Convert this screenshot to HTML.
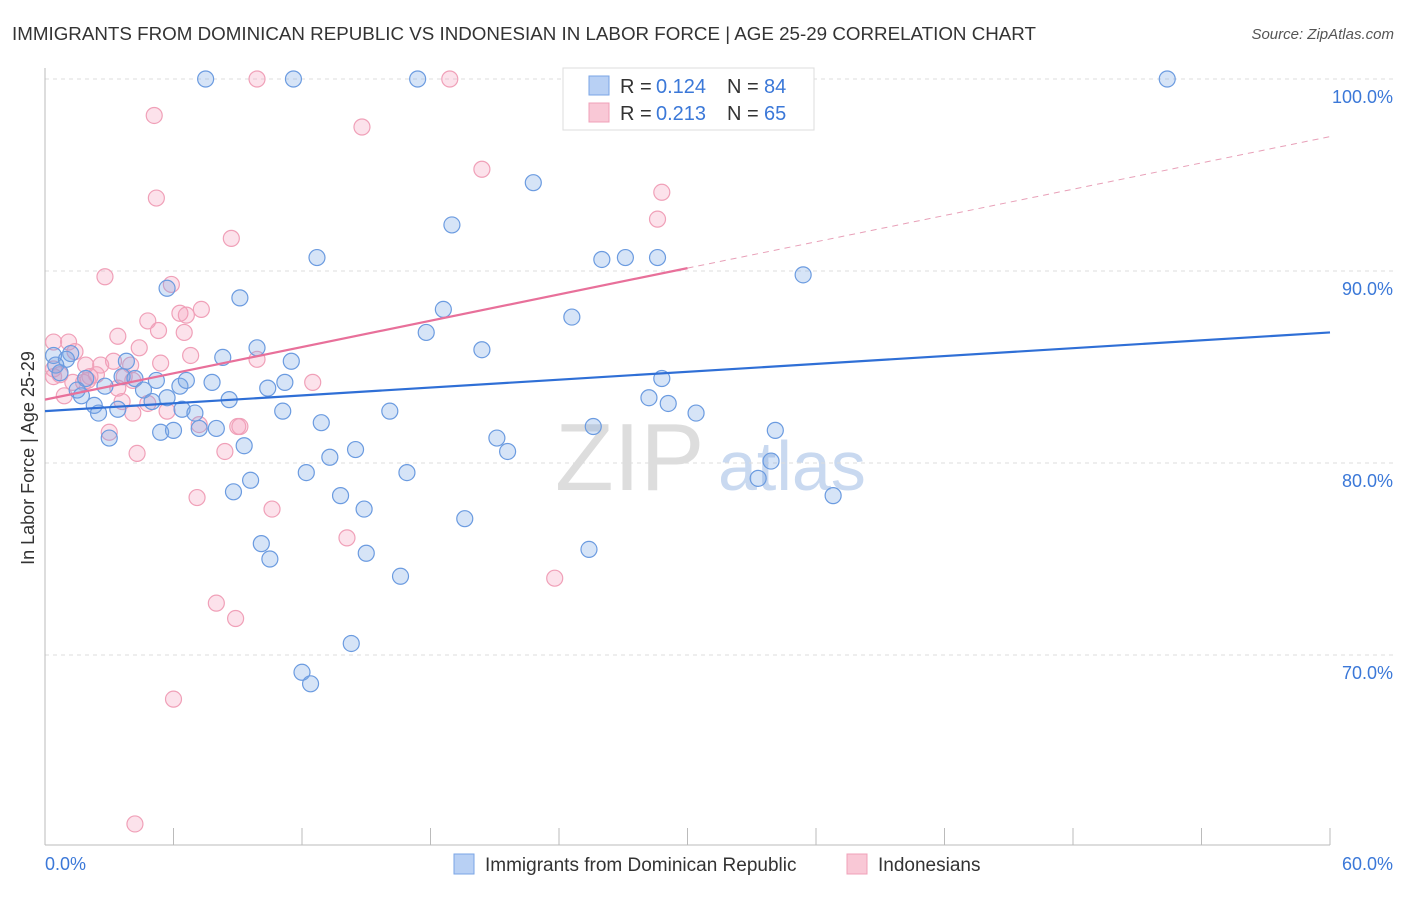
<!DOCTYPE html>
<html><head><meta charset="utf-8"><style>
body{margin:0;background:#fff;font-family:"Liberation Sans",sans-serif;}
svg text{font-family:"Liberation Sans",sans-serif;}
</style></head><body>
<svg id="chart" width="1406" height="892" xmlns="http://www.w3.org/2000/svg">
<text x="12" y="40" font-size="18" fill="#333" textLength="1024" lengthAdjust="spacingAndGlyphs">IMMIGRANTS FROM DOMINICAN REPUBLIC VS INDONESIAN IN LABOR FORCE | AGE 25-29 CORRELATION CHART</text>
<text x="1394" y="39" font-size="15" fill="#555" font-style="italic" text-anchor="end">Source: ZipAtlas.com</text>
<text x="34" y="458" font-size="18" fill="#333" text-anchor="middle" transform="rotate(-90 34 458)">In Labor Force | Age 25-29</text>
<g><text x="555" y="490" font-size="96" fill="#ddd" font-family="Liberation Serif,serif">ZIP</text><text x="718" y="490" font-size="70" fill="#c9d9f0">atlas</text></g>
<g id="grid"></g><g id="marks"></g>
<g>
<rect x="563" y="68" width="251" height="62" fill="#fff" stroke="#ddd"/>
<rect x="589" y="76" width="20" height="19" fill="#b8d0f4" stroke="#7aa5e6"/>
<rect x="589" y="103" width="20" height="19" fill="#f9c8d6" stroke="#f0a0b8"/>
<text x="620" y="93" font-size="20" fill="#333">R =</text><text x="656" y="93" font-size="20" fill="#3b78d8">0.124</text>
<text x="727" y="93" font-size="20" fill="#333">N =</text><text x="764" y="93" font-size="20" fill="#3b78d8">84</text>
<text x="620" y="120" font-size="20" fill="#333">R =</text><text x="656" y="120" font-size="20" fill="#3b78d8">0.213</text>
<text x="727" y="120" font-size="20" fill="#333">N =</text><text x="764" y="120" font-size="20" fill="#3b78d8">65</text>
</g>
<g>
<rect x="454" y="854" width="20" height="20" fill="#b8d0f4" stroke="#7aa5e6"/>
<text x="485" y="871" font-size="19" fill="#333">Immigrants from Dominican Republic</text>
<rect x="847" y="854" width="20" height="20" fill="#f9c8d6" stroke="#f0a0b8"/>
<text x="878" y="871" font-size="19" fill="#333">Indonesians</text>
</g>
</svg>
<script>
const xTicks=[0,6,12,18,24,30,36,42,48,54,60];
const yTicks=[100,90,80,70];
const blueX=[7.5,11.6,17.4,52.4,22.8,19.0,12.7,26.0,27.1,28.6,35.4,5.7,9.1,18.6,24.6,17.8,9.9,20.4,0.4,1.2,1.0,3.8,8.3,11.5,0.5,0.7,1.9,2.8,3.6,4.2,5.2,6.3,6.6,7.8,10.4,11.2,28.8,1.5,1.7,2.3,3.4,2.5,4.6,5.0,5.7,6.4,7.0,8.6,11.1,16.1,28.2,29.1,30.4,3.0,5.4,6.0,7.2,8.0,9.3,12.9,25.6,21.1,21.6,34.1,14.5,13.3,12.2,16.9,9.6,33.9,33.3,8.8,13.8,36.8,14.9,19.6,10.1,15.0,25.4,10.5,16.6,14.3,12.0,12.4];
const blueY=[100,100,100,100,94.6,92.4,90.7,90.6,90.7,90.7,89.8,89.1,88.6,88.0,87.6,86.8,86.0,85.9,85.6,85.7,85.4,85.3,85.5,85.3,85.1,84.7,84.4,84.0,84.5,84.4,84.3,84.0,84.3,84.2,83.9,84.2,84.4,83.8,83.5,83.0,82.8,82.6,83.8,83.2,83.4,82.8,82.6,83.3,82.7,82.7,83.4,83.1,82.6,81.3,81.6,81.7,81.8,81.8,80.9,82.1,81.9,81.3,80.6,81.7,80.7,80.3,79.5,79.5,79.1,80.1,79.2,78.5,78.3,78.3,77.6,77.1,75.8,75.3,75.5,75.0,74.1,70.6,69.1,68.5];
const pinkX=[9.9,18.9,5.1,14.8,20.4,28.8,28.6,5.2,8.7,2.8,5.9,7.3,6.3,6.6,4.8,6.5,5.3,3.4,4.4,0.4,1.1,1.4,6.8,9.9,3.2,4.0,5.4,0.4,0.7,1.9,2.6,2.4,3.7,4.1,12.5,1.3,2.0,0.9,3.4,3.6,4.1,5.7,4.8,7.2,9.0,9.1,3.0,4.3,8.4,7.1,10.6,14.1,23.8,8.0,8.9,6.0,4.2,0.4,1.8,2.1];
const pinkY=[100,100,98.1,97.5,95.3,94.1,92.7,93.8,91.7,89.7,89.3,88.0,87.8,87.7,87.4,86.8,86.9,86.6,86.0,86.3,86.3,85.8,85.6,85.4,85.3,85.1,85.2,84.9,84.6,85.1,85.1,84.6,84.5,84.3,84.2,84.2,84.3,83.5,83.9,83.2,82.6,82.7,83.1,82.0,81.9,81.9,81.6,80.5,80.6,78.2,77.6,76.1,74.0,72.7,71.9,67.7,61.2,84.5,84.2,84.5];
const blueTrend=[82.7,86.8];
const pinkTrend=[83.3,97.0];
const NS="http://www.w3.org/2000/svg";
const sx=v=>45+v/60*1285;
const sy=v=>79+(100-v)*19.2;
function mk(t,a,p){const e=document.createElementNS(NS,t);for(const k in a)e.setAttribute(k,a[k]);p.appendChild(e);return e;}
const g=document.getElementById('grid'),m=document.getElementById('marks');
yTicks.forEach(v=>{
 const l=mk('line',{x1:45,x2:1393,y1:sy(v),y2:sy(v),stroke:'#ddd','stroke-dasharray':'4,4'},g);
 
 
 const t=mk('text',{x:1393,y:sy(v)+24,'font-size':18,fill:'#3b78d8','text-anchor':'end'},g);
 t.textContent=v.toFixed(1)+'%';
 
 
});
mk('line',{x1:45,x2:45,y1:68,y2:845,stroke:'#bbb'},g);
mk('line',{x1:45,x2:1330,y1:845,y2:845,stroke:'#bbb'},g);
xTicks.forEach(v=>{
 const l=mk('line',{x1:sx(v),x2:sx(v),y1:828,y2:845,stroke:'#bbb'},g);
 
 
});
[[0,'start'],[60,'end']].forEach(([v,a])=>{
 const t=mk('text',{x:v?sx(v)+63:sx(v),y:870,'font-size':18,fill:'#3b78d8','text-anchor':a},g);
 t.textContent=v.toFixed(1)+'%';
 
 
});
function pts(X,Y,fill,stroke,name){X.forEach((x,i)=>{
 const c=mk('circle',{cx:sx(x),cy:sy(Y[i]),r:8,fill:fill,stroke:stroke,'stroke-width':1.2},m);
 
 
});}
pts(pinkX,pinkY,'rgba(244,160,188,0.3)','#f0a0b8','indonesian-point');
pts(blueX,blueY,'rgba(120,165,230,0.3)','#6b9be0','dominican-point');
const bl=mk('line',{x1:sx(0),y1:sy(blueTrend[0]),x2:sx(60),y2:sy(blueTrend[1]),stroke:'#2f6fd6','stroke-width':2.2},m);


const pm=pinkTrend[0]+(pinkTrend[1]-pinkTrend[0])*0.5;
const pl=mk('line',{x1:sx(0),y1:sy(pinkTrend[0]),x2:sx(30),y2:sy(pm),stroke:'#e8709a','stroke-width':2.2},m);


const pd=mk('line',{x1:sx(30),y1:sy(pm),x2:sx(60),y2:sy(pinkTrend[1]),stroke:'#e8a0b8','stroke-width':1,'stroke-dasharray':'6,5'},m);


</script>
</body></html>
